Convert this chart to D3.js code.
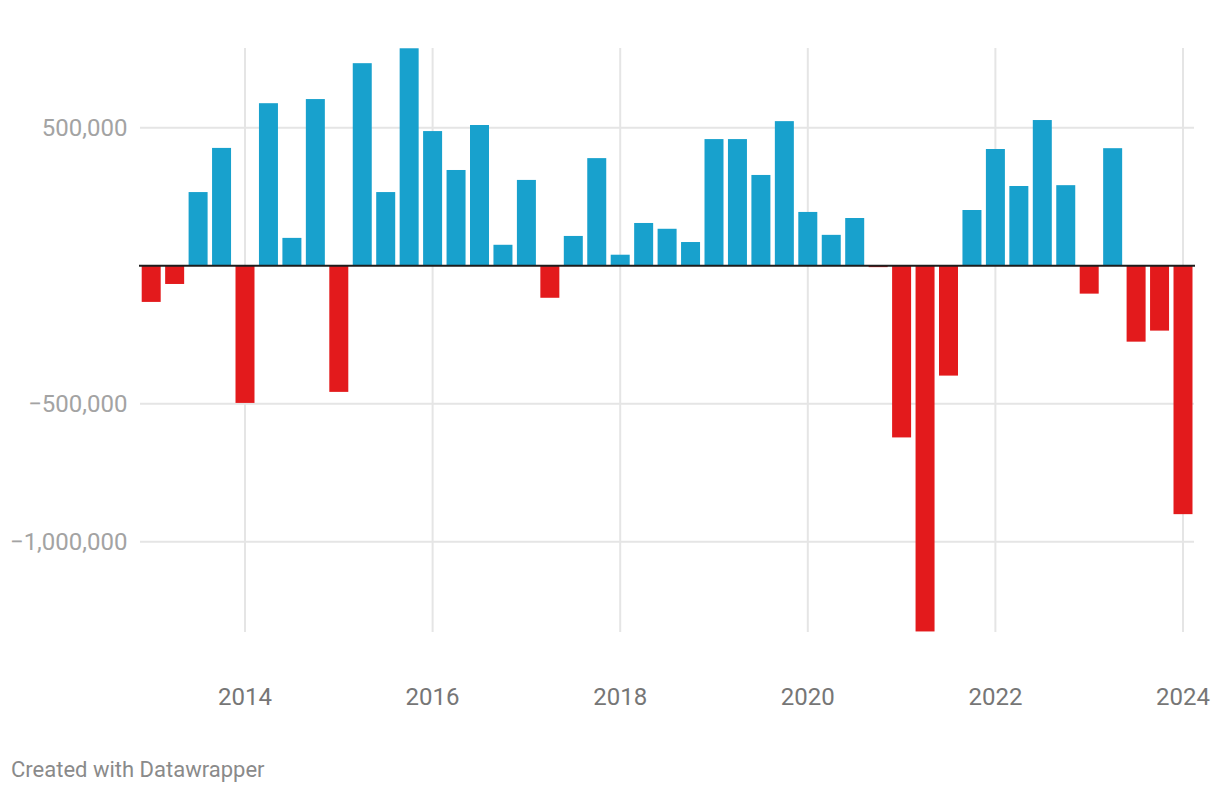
<!DOCTYPE html>
<html>
<head>
<meta charset="utf-8">
<script src="https://cdn.jsdelivr.net/npm/d3@7"></script>
<style>
  html, body { margin: 0; padding: 0; background: #fff; }
  svg { display: block; font-family: Roboto, "Noto Sans", sans-serif; }
</style>
</head>
<body>
<svg id="chart" width="1220" height="792"></svg>
<script>
// Quarterly categories
const quarters = [
  "2013 Q1","2013 Q2","2013 Q3","2013 Q4",
  "2014 Q1","2014 Q2","2014 Q3","2014 Q4",
  "2015 Q1","2015 Q2","2015 Q3","2015 Q4",
  "2016 Q1","2016 Q2","2016 Q3","2016 Q4",
  "2017 Q1","2017 Q2","2017 Q3","2017 Q4",
  "2018 Q1","2018 Q2","2018 Q3","2018 Q4",
  "2019 Q1","2019 Q2","2019 Q3","2019 Q4",
  "2020 Q1","2020 Q2","2020 Q3","2020 Q4",
  "2021 Q1","2021 Q2","2021 Q3","2021 Q4",
  "2022 Q1","2022 Q2","2022 Q3","2022 Q4",
  "2023 Q1","2023 Q2","2023 Q3","2023 Q4",
  "2024 Q1"
];
const values = [
  -131000, -66000, 267000, 427000,
  -497000, 589000, 101000, 604000,
  -457000, 734000, 267000, 788000,
  488000, 347000, 510000, 76000,
  311000, -116000, 108000, 390000,
  40000, 155000, 134000, 86000,
  459000, 459000, 329000, 524000,
  195000, 112000, 173000, -5000,
  -622000, -1325000, -398000, 202000,
  423000, 289000, 528000, 292000,
  -101000, 426000, -275000, -235000,
  -900000
];
const xTickYears = [2014, 2016, 2018, 2020, 2022, 2024];
const yTickValues = [500000, -500000, -1000000];
const footerText = "Created with Datawrapper";

const colorPos = "#18a1cd";
const colorNeg = "#e31a1c";

const data = quarters.map((q, i) => {
  const [yr, qq] = q.split(" Q");
  return { label: q, t: +yr + (+qq - 1) / 4, value: values[i] };
});

const svg = d3.select("#chart");

const plot = { left: 140, right: 1194, top: 48, bottom: 632 };

const x = d3.scaleLinear().domain([2014, 2024]).range([245, 1183]);
const y = d3.scaleLinear().domain([-1327000, 789000]).range([plot.bottom, plot.top]);

const step = x(2014.25) - x(2014);
const barW = step * 0.81;

// Vertical gridlines
svg.append("g").selectAll("line").data(xTickYears).join("line")
  .attr("x1", d => x(d)).attr("x2", d => x(d))
  .attr("y1", plot.top).attr("y2", plot.bottom)
  .attr("stroke", "#e5e5e5").attr("stroke-width", 2);

// Horizontal gridlines
svg.append("g").selectAll("line").data(yTickValues).join("line")
  .attr("x1", plot.left).attr("x2", plot.right)
  .attr("y1", d => y(d)).attr("y2", d => y(d))
  .attr("stroke", "#e5e5e5").attr("stroke-width", 2);

// Y tick labels
const fmt = v => (v < 0 ? "\u2212" : "") + d3.format(",")(Math.abs(v));
svg.append("g").selectAll("text").data(yTickValues).join("text")
  .attr("x", 127.5).attr("y", d => y(d)).attr("dy", "0.34em")
  .attr("text-anchor", "end")
  .attr("font-size", 24).attr("fill", "#a3a3a3")
  .text(fmt);

// Bars
svg.append("g").selectAll("rect").data(data).join("rect")
  .attr("x", d => x(d.t) - barW / 2)
  .attr("width", barW)
  .attr("y", d => Math.min(y(d.value), y(0)))
  .attr("height", d => Math.abs(y(d.value) - y(0)))
  .attr("fill", d => d.value >= 0 ? colorPos : colorNeg);

// Zero line
svg.append("line")
  .attr("x1", plot.left - 1).attr("x2", plot.right + 1)
  .attr("y1", y(0)).attr("y2", y(0))
  .attr("stroke", "#1d1d1d").attr("stroke-width", 2);

// X tick labels
svg.append("g").selectAll("text").data(xTickYears).join("text")
  .attr("x", d => x(d)).attr("y", 705)
  .attr("text-anchor", "middle")
  .attr("font-size", 24).attr("fill", "#767676")
  .text(d => d);

// Footer
svg.append("text")
  .attr("x", 11).attr("y", 776.5)
  .attr("font-size", 22).attr("fill", "#8a8a8a")
  .text(footerText);
</script>
</body>
</html>
